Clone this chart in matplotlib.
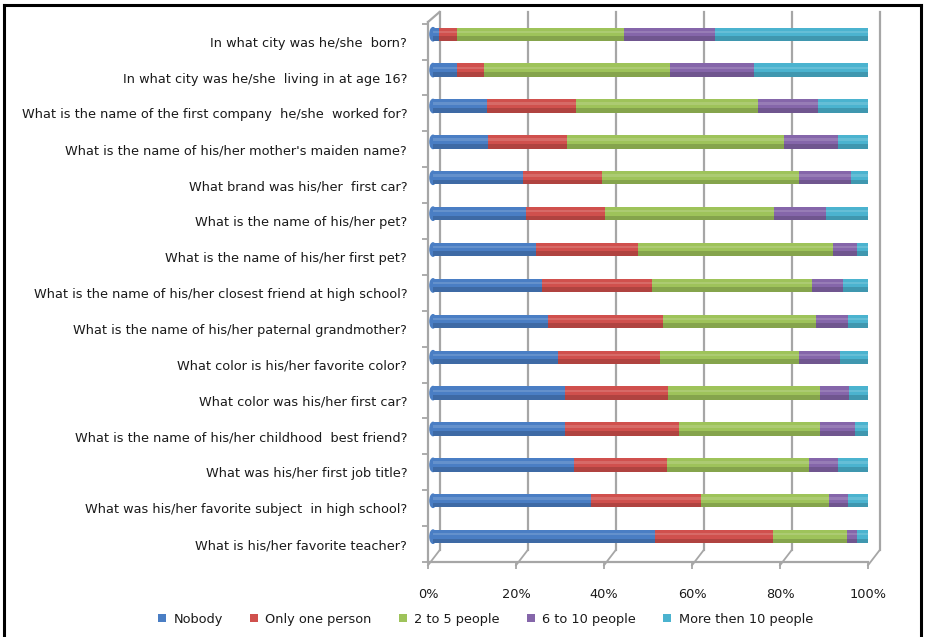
import numpy as np
import matplotlib
matplotlib.use("Agg")
import matplotlib.pyplot as plt
from matplotlib.transforms import offset_copy
from matplotlib.patches import Patch, Ellipse
from matplotlib.lines import Line2D
from matplotlib.colors import to_rgb

plt.rcParams['font.family'] = ['DejaVu Sans']

questions = [
    "In what city was he/she  born?",
    "In what city was he/she  living in at age 16?",
    "What is the name of the first company  he/she  worked for?",
    "What is the name of his/her mother's maiden name?",
    "What brand was his/her  first car?",
    "What is the name of his/her pet?",
    "What is the name of his/her first pet?",
    "What is the name of his/her closest friend at high school?",
    "What is the name of his/her paternal grandmother?",
    "What color is his/her favorite color?",
    "What color was his/her first car?",
    "What is the name of his/her childhood  best friend?",
    "What was his/her first job title?",
    "What was his/her favorite subject  in high school?",
    "What is his/her favorite teacher?",
]

series_names = ["Nobody", "Only one person", "2 to 5 people", "6 to 10 people", "More then 10 people"]

nobody = [1.4, 5.5, 12.3, 12.5, 20.5, 21.2, 23.4, 24.8, 26.1, 28.4, 29.9, 30.1, 32.0, 35.8, 50.4]
only_one = [4.1, 6.1, 20.3, 18.0, 18.0, 18.0, 23.3, 24.9, 26.1, 23.3, 23.5, 25.9, 21.2, 25.1, 26.8]
two_to_five = [37.8, 42.3, 41.2, 49.3, 44.6, 38.4, 44.2, 36.4, 34.8, 31.4, 34.5, 31.9, 32.3, 29.0, 16.9]
six_to_ten = [20.7, 19.1, 13.8, 12.3, 11.8, 11.8, 5.5, 7.1, 7.4, 9.3, 6.7, 7.9, 6.6, 4.4, 2.2]
more_than_ten = [36.0, 27.0, 12.4, 7.9, 5.1, 10.6, 3.6, 6.8, 5.6, 7.6, 5.4, 4.2, 7.9, 5.7, 3.7]

colors = ["#4a7ec4", "#d0504d", "#9ec35a", "#8566aa", "#4bb3cf"]

series = [nobody, only_one, two_to_five, six_to_ten, more_than_ten]
n = len(questions)
y = np.arange(n)

W, H = 926, 637
fig = plt.figure(figsize=(W / 100, H / 100), dpi=100)
fig.patch.set_facecolor("white")

# front plane of the pseudo-3D plot box (pixels)
left_px, right_px, top_px, bot_px = 428, 868, 22, 562
ax = fig.add_axes([left_px / W, 1 - bot_px / H, (right_px - left_px) / W, (bot_px - top_px) / H])
ax.set_xlim(0, 100)
ax.set_ylim(14.453, -0.547)
ax.patch.set_alpha(0)

grid_c = "#a6a6a6"
depth_x, depth_y = 11.5, 10
fs = 9.3

# back wall gridlines
back = offset_copy(ax.transData, fig, x=depth_x, y=depth_y, units="dots")
for v in range(0, 101, 20):
    ax.plot([v, v], [14.453, -0.547], color=grid_c, lw=1.6, transform=back, clip_on=False, zorder=0)

# floor slants from the front ticks to the back wall
inv = ax.transData.inverted()
for v in range(0, 101, 20):
    p0 = ax.transData.transform((v, 14.453)) + np.array([0, -5])
    p1 = ax.transData.transform((v, 14.453)) + np.array([depth_x, depth_y])
    a, b = inv.transform(p0), inv.transform(p1)
    ax.plot([a[0], b[0]], [a[1], b[1]], color=grid_c, lw=1.3, clip_on=False, zorder=0)

# top slant of the side wall
p0 = ax.transData.transform((0, -0.547))
p1 = p0 + np.array([depth_x, depth_y])
a, b = inv.transform(p0), inv.transform(p1)
ax.plot([a[0], b[0]], [a[1], b[1]], color=grid_c, lw=1.6, clip_on=False, zorder=0)

# cylinder-like bars
bar_tr = offset_copy(ax.transData, fig, x=5, y=7.4, units="dots")
h = 0.37
left = np.zeros(n)
for k, (vals, c) in enumerate(zip(series, colors)):
    vals = np.array(vals)
    rgb = np.array(to_rgb(c))
    dark = rgb * 0.72
    light = np.clip(rgb + (1 - rgb) * 0.25, 0, 1)
    ax.barh(y, vals, left=left, height=h, color=c, transform=bar_tr, zorder=2, linewidth=0)
    ax.barh(y + h * 0.32, vals, left=left, height=h * 0.36, color=dark, transform=bar_tr,
            zorder=3, linewidth=0, alpha=0.55)
    ax.barh(y - h * 0.18, vals, left=left, height=h * 0.18, color=light, transform=bar_tr,
            zorder=3, linewidth=0, alpha=0.6)
    if k == 0:
        for yi in y:
            ax.add_patch(Ellipse((0, yi), 1.4, h, color=c, transform=bar_tr, zorder=1))
    if k == len(series) - 1:
        for yi in y:
            ax.add_patch(Ellipse((100, yi), 1.6, h, color=dark, transform=bar_tr, zorder=4))
    left += vals

ax.set_xticks(range(0, 101, 20))
ax.set_xticklabels([f"{v}%" for v in range(0, 101, 20)])
ax.set_yticks(y)
ax.set_yticklabels(questions)
ax.set_yticks(np.arange(-0.5, n, 1), minor=True)
ax.tick_params(axis="y", which="major", length=0, pad=15, labelsize=fs, labelcolor="#1a1a1a")
ax.tick_params(axis="y", which="minor", length=4, color=grid_c, width=1.3)
ax.tick_params(axis="x", length=5, color=grid_c, width=1.3, pad=14, labelsize=fs, labelcolor="#1a1a1a")
for s in ["top", "right"]:
    ax.spines[s].set_visible(False)
for s in ["left", "bottom"]:
    ax.spines[s].set_color(grid_c)
    ax.spines[s].set_linewidth(1.6)

handles = [Patch(facecolor=c, edgecolor="none") for c in colors]
fig.legend(handles, series_names, loc="center", bbox_to_anchor=(485.5 / W, 1 - 619 / H), ncol=5,
           frameon=False, fontsize=fs, handlelength=0.6, handleheight=0.6,
           handletextpad=0.6, columnspacing=2.1, labelcolor="#1a1a1a")

# outer frame
for xs, ys in [([4, 4], [0, 5]), ([4, 921], [5, 5]), ([921, 921], [5, 0])]:
    xs_f = [v / W for v in xs]
    ys_f = [1 - v / H if v == 5 else -0.01 for v in ys]
    fig.add_artist(Line2D(xs_f, ys_f, color="black", lw=2.2, transform=fig.transFigure))

fig.savefig("out.png", dpi=100)
